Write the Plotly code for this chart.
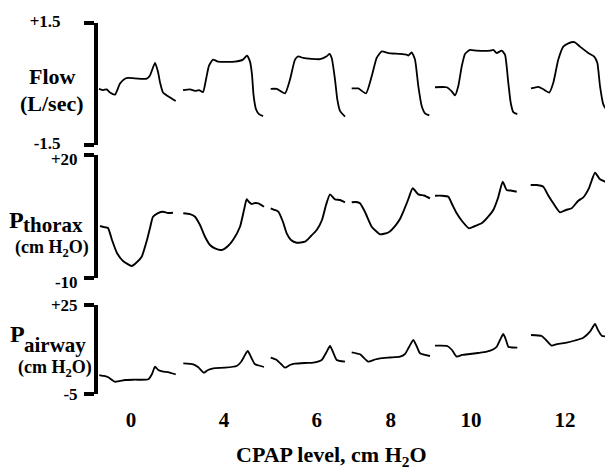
import plotly.graph_objects as go

# ---------------- data (time in samples, values in panel units) ----------------
cpap_levels = ["0", "4", "6", "8", "10", "12"]
label_t = [131, 224, 316.7, 390.7, 471, 565]

flow_t = [
    [99, 103.3, 106.7, 110, 115, 120, 125, 128.3, 146.7, 150, 155, 158, 160, 163, 168, 175.7],
    [183, 190, 195, 199, 203, 206, 209, 213, 218, 235, 243, 247, 250, 252, 253.5, 256, 259, 263],
    [270.7, 276.7, 285, 290, 295, 298.3, 303.3, 320, 326.7, 329.3, 331.7, 335, 337.3, 340, 345],
    [351.7, 358.3, 366, 371.7, 376.7, 381.7, 388.3, 400, 406.7, 408.3, 411.7, 415, 418.3, 421.7, 425, 429.3],
    [435, 446.7, 451.7, 455, 458.3, 461.7, 465, 470, 476.7, 490, 493.3, 496.7, 501.7, 505, 508.3, 510.7, 513.3, 517.3],
    [531, 538.3, 543.3, 549.3, 553.3, 558.3, 563.3, 568.3, 574.3, 580, 588.3, 594, 597.3, 600, 603.3, 607.3, 612.7],
]
flow_v = [
    [-0.12, -0.15, -0.13, -0.21, -0.26, 0.01, 0.13, 0.15, 0.13, 0.21, 0.52, 0.30, 0.04, -0.21, -0.30, -0.42],
    [-0.15, -0.13, -0.17, -0.15, -0.20, 0.11, 0.45, 0.60, 0.55, 0.55, 0.60, 0.70, 0.55, 0.23, -0.26, -0.62, -0.74, -0.79],
    [-0.12, -0.12, -0.23, 0.11, 0.60, 0.68, 0.64, 0.61, 0.68, 0.74, 0.64, 0.11, -0.38, -0.66, -0.80],
    [-0.11, -0.11, -0.23, 0.19, 0.64, 0.80, 0.76, 0.74, 0.72, 0.70, 0.78, 0.60, -0.05, -0.54, -0.72, -0.77],
    [-0.08, -0.08, -0.18, -0.28, -0.05, 0.43, 0.74, 0.84, 0.82, 0.82, 0.84, 0.76, 0.82, 0.72, 0.03, -0.46, -0.69, -0.74],
    [-0.11, -0.07, -0.13, -0.21, 0.03, 0.60, 0.92, 1.00, 1.03, 0.92, 0.76, 0.68, 0.52, -0.05, -0.50, -0.66, -0.70],
]

thorax_t = [
    [100, 104, 108, 112, 117, 123, 131.7, 136, 141.7, 147, 150, 153, 158, 163, 168, 173],
    [183.3, 190, 195, 200, 205, 210, 215, 221.7, 228, 233, 240, 244, 246.7, 249, 251.7, 255, 258.3, 264],
    [270.7, 275, 278.3, 283, 286.7, 291, 296.7, 305, 311, 316.7, 322, 326, 330, 335, 340, 345],
    [351.7, 356, 360, 365, 371.7, 376, 380, 388.3, 395, 400, 403.3, 408, 412.7, 418.3, 424, 430],
    [435, 442, 448.3, 452, 456.7, 462, 469, 475, 481.7, 488, 493.3, 498, 502.7, 506.7, 511, 516.7],
    [530.7, 537, 543.3, 548, 553.3, 560, 566, 571.7, 578, 583.3, 589, 595, 600, 606, 612.7],
]
thorax_v = [
    [2.68, 2.4, 2.2, -0.73, -3.90, -5.85, -7.07, -6.34, -4.80, -0.73, 2.2, 4.95, 5.85, 6.17, 5.85, 5.93],
    [5.78, 5.6, 4.95, 2.93, 0.07, -1.95, -2.80, -3.17, -2.2, -0.73, 2.51, 6.58, 9.20, 8.54, 8.05, 8.29, 8.22, 7.39],
    [7.00, 6.58, 6.17, 3.66, 0.90, -0.73, -1.39, -1.15, 0.24, 1.71, 4.15, 7.8, 10.41, 9.20, 9.02, 8.46],
    [8.46, 8.54, 8.22, 6.10, 2.51, 1.46, 0.66, 1.10, 2.68, 4.39, 6.17, 9.02, 11.88, 10.41, 10.12, 9.44],
    [10.07, 10.07, 9.83, 8.05, 5.78, 3.90, 2.12, 2.68, 3.34, 4.88, 6.59, 9.51, 13.49, 11.46, 11.34, 11.05],
    [12.68, 12.68, 12.27, 10.24, 8.22, 6.02, 6.59, 7.00, 8.78, 9.66, 11.93, 15.68, 14.07, 13.41, 12.93],
]

airway_t = [
    [99.3, 104, 108.3, 115, 125, 135, 148.3, 152, 155, 158.3, 163.3, 168, 175.7],
    [183.3, 193.3, 198, 204, 208, 213.3, 225, 236.7, 241, 247.7, 251, 255, 259, 264],
    [270.7, 276.7, 281, 285, 290, 295, 305, 313.3, 321.7, 326, 330, 333, 336.7, 345],
    [351.7, 360, 368.3, 375, 380, 390, 400, 405, 409, 413.3, 417, 420, 430],
    [435, 447.3, 452, 456.7, 462, 470, 478, 486.7, 493, 496.7, 500, 503.3, 506, 508.3, 512, 517.3],
    [531, 541.7, 546, 551.7, 557, 566.7, 575, 583.3, 590, 595, 598, 601.7, 607, 612.7],
]
airway_v = [
    [1.40, 1.07, 0.63, -0.86, -0.28, -0.18, -0.05, 1.74, 4.20, 3.09, 2.52, 2.41, 1.64],
    [5.35, 5.01, 4.10, 2.18, 3.09, 3.66, 3.86, 4.44, 5.79, 9.49, 7.47, 5.01, 4.61, 4.10],
    [7.23, 6.46, 5.11, 3.86, 4.77, 5.21, 5.45, 5.55, 6.46, 8.82, 11.18, 9.16, 6.46, 5.89],
    [9.06, 8.38, 5.89, 6.63, 7.03, 7.30, 7.57, 8.48, 10.84, 13.20, 10.84, 8.72, 7.81],
    [11.28, 11.18, 9.83, 7.57, 8.15, 8.48, 8.82, 9.26, 10.0, 10.94, 13.20, 15.22, 13.20, 10.94, 10.67, 10.61],
    [14.89, 14.55, 13.20, 11.28, 11.85, 12.29, 13.03, 13.98, 16.0, 18.59, 16.57, 14.65, 14.38, 13.98],
]

flow_ticks = [-1.5, 1.5]
flow_ticktext = ["-1.5", "+1.5"]
thorax_ticks = [-10, 20]
thorax_ticktext = ["-10", "+20"]
airway_ticks = [-5, 25]
airway_ticktext = ["-5", "+25"]

# ---------------- layout geometry ----------------
# The page body has an 8 px margin, so the figure is drawn 8 px smaller and
# all reference-pixel positions are shifted by that offset.
OFF = 8
W, H = 613 - OFF, 475 - OFF
REF_LEFT, REF_TOP, REF_BOTTOM = 98, 23, 394
ML, MT = REF_LEFT - OFF, REF_TOP - OFF
MR = 0
MB = H - (REF_BOTTOM - OFF)
PW, PH = W - ML - MR, H - MT - MB

def px_x(px):
    return (px - REF_LEFT) / PW

def px_y(py):
    return (REF_BOTTOM - py) / PH

FONT = "Liberation Serif, Times New Roman, serif"

fig = go.Figure()

panels = [
    ("y", flow_t, flow_v, 1.8),
    ("y2", thorax_t, thorax_v, 1.9),
    ("y3", airway_t, airway_v, 1.8),
]
for yref, ts, vs, lw in panels:
    for t, v in zip(ts, vs):
        fig.add_trace(go.Scatter(
            x=t, y=v, mode="lines", yaxis=yref,
            line=dict(color="black", width=lw, shape="spline", smoothing=0.5),
            showlegend=False, hoverinfo="skip",
        ))

def yax(domain, rng, tv, tt, standoff, shift=0):
    return dict(
        domain=domain, range=rng, showgrid=False, zeroline=False,
        showline=True, linewidth=4, linecolor="black",
        ticks="outside", ticklen=10, tickwidth=4, tickcolor="black",
        tickvals=tv, ticktext=["<b>%s</b>" % s for s in tt],
        ticklabelstandoff=standoff, ticklabelshift=shift,
        tickfont=dict(family=FONT, size=17, color="black", weight="bold"),
        anchor="x", fixedrange=True,
    )

fig.update_layout(
    width=W, height=H,
    margin=dict(l=ML, r=MR, t=MT, b=MB, autoexpand=False),
    paper_bgcolor="white", plot_bgcolor="white",
    xaxis=dict(
        range=[REF_LEFT, 613], showgrid=False, zeroline=False, showline=False,
        ticks="", tickvals=label_t, ticktext=cpap_levels, ticklabelstandoff=11,
        tickfont=dict(family=FONT, size=21, color="black", weight="bold"),
        anchor="y3", fixedrange=True,
    ),
    yaxis=yax([px_y(145), px_y(23)], [-1.5, 1.5], flow_ticks, flow_ticktext, 20, -2),
    yaxis2=yax([px_y(278), px_y(155)], [-10, 20], thorax_ticks, thorax_ticktext, 3, 4),
    yaxis3=yax([px_y(394), px_y(305)], [-5, 25], airway_ticks, airway_ticktext, 3),
)

def ann(text, px, py, size, xanchor="center"):
    fig.add_annotation(
        text=text, x=px_x(px), y=px_y(py), xref="paper", yref="paper",
        xanchor=xanchor, yanchor="middle", showarrow=False,
        font=dict(family=FONT, size=size, color="black", weight="bold"),
    )

ann("Flow", 52, 76, 22)
ann("(L/sec)", 52, 103, 22)
ann("P", 16, 220, 24)
ann("thorax", 21, 225, 21, xanchor="left")
ann("(cm H<sub>2</sub>O)", 52, 248, 18)
ann("P", 17, 334, 24)
ann("airway", 22, 345, 21, xanchor="left")
ann("(cm H<sub>2</sub>O)", 55, 368, 18)
ann("CPAP level, cm H<sub>2</sub>O", 331, 456, 22)

fig.write_html("out.html")
